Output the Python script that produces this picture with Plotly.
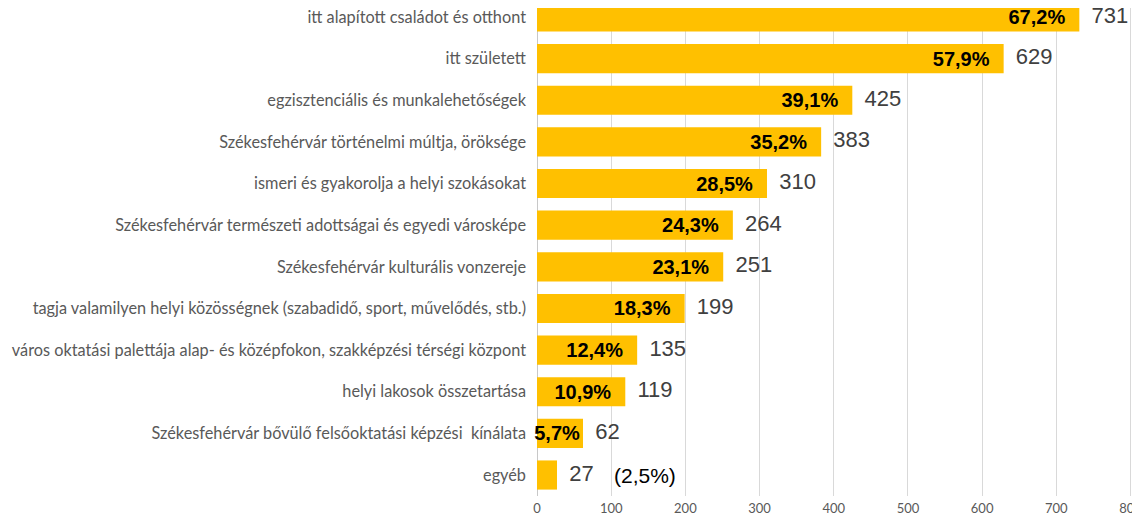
import plotly.graph_objects as go

categories = [
    "itt alapított családot és otthont",
    "itt született",
    "egzisztenciális és munkalehetőségek",
    "Székesfehérvár történelmi múltja, öröksége",
    "ismeri és gyakorolja a helyi szokásokat",
    "Székesfehérvár természeti adottságai és egyedi városképe",
    "Székesfehérvár kulturális vonzereje",
    "tagja valamilyen helyi közösségnek (szabadidő, sport, művelődés, stb.)",
    "város oktatási palettája alap- és középfokon, szakképzési térségi központ",
    "helyi lakosok összetartása",
    "Székesfehérvár bővülő felsőoktatási képzési  kínálata",
    "egyéb",
]
counts = [731, 629, 425, 383, 310, 264, 251, 199, 135, 119, 62, 27]
pct_labels = ["67,2%", "57,9%", "39,1%", "35,2%", "28,5%", "24,3%", "23,1%",
              "18,3%", "12,4%", "10,9%", "5,7%", ""]
other_pct = "(2,5%)"

# short bars get no right padding, the label just spills over
pad = "\u00a0\u00a0"
bar_text = []
for c, p in zip(counts, pct_labels):
    if not p:
        bar_text.append("")
    elif c > 100:
        bar_text.append(f"<b>{p}</b>{pad}")
    else:
        bar_text.append(f"<b>{p}</b>")

fig = go.Figure()

fig.add_trace(go.Bar(
    x=counts, y=categories, orientation="h",
    width=0.7,
    marker=dict(color="#FFC000", line=dict(width=0)),
    text=bar_text,
    textposition="inside", insidetextanchor="end", constraintext="none",
    textfont=dict(family="Liberation Sans, Arial", size=20, color="black"),
    cliponaxis=False, showlegend=False, hoverinfo="skip",
))

# counts just outside the bar
fig.add_trace(go.Scatter(
    x=counts, y=categories, mode="text",
    text=[f"\u00a0\u00a0{c}" for c in counts], textposition="middle right",
    textfont=dict(family="Liberation Sans, Arial", size=22, color="#404040"),
    cliponaxis=False, showlegend=False, hoverinfo="skip",
))

fig.add_annotation(
    x=counts[-1], y=categories[-1], text=other_pct, showarrow=False,
    xanchor="left", xshift=55,
    font=dict(family="Liberation Sans, Arial", size=21, color="black"),
)

# the page body has an 8px margin; keep the figure inside the window so no scrollbars
fig.update_layout(
    width=1124, height=506,
    margin=dict(l=529, r=0, t=0, b=18),
    plot_bgcolor="white", paper_bgcolor="white",
)
fig.update_xaxes(
    range=[0, 802], dtick=100, showgrid=True, gridcolor="#d9d9d9", gridwidth=1,
    zeroline=True, zerolinecolor="#c8c8c8", zerolinewidth=1,
    tickfont=dict(family="Lato", size=13, color="#595959"),
    ticks="", ticklabelstandoff=3, ticklabeloverflow="allow", automargin=False,
)
fig.update_yaxes(
    range=[11.504, -0.216], showgrid=False,
    tickfont=dict(family="Lato", size=16.3, color="#595959"),
    ticks="", ticklabelstandoff=10,
)

fig.write_html("out.html")
